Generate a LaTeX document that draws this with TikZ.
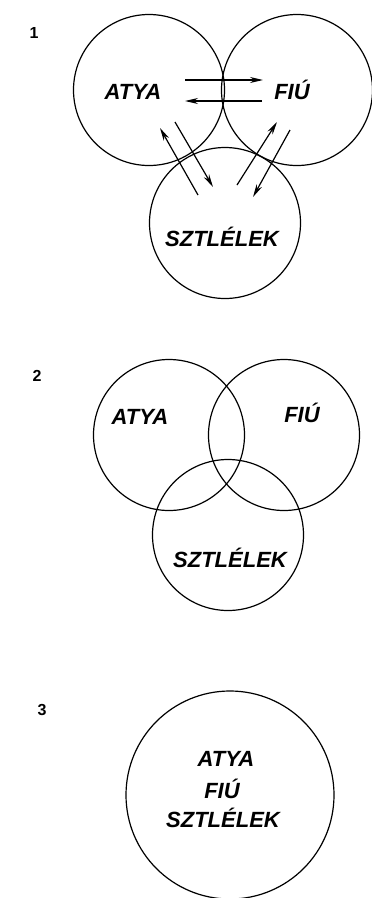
\documentclass[tikz,border=0pt]{standalone}
\usepackage{fontspec}
\setmainfont{Liberation Sans}
\usetikzlibrary{arrows.meta}
\begin{document}
\begin{tikzpicture}[x = 1pt, y = -1pt, line width = 1.2pt,
    kor/.style = {circle, draw, minimum size = 151pt, inner sep = 0pt},
    nev/.style = {font = \fontsize{22}{24}\selectfont\bfseries\itshape, inner sep = 0pt},
    szam/.style = {font = \fontsize{16}{18}\selectfont\bfseries},
    nyil/.style = {-{Stealth[length = 13pt, width = 6pt]}}]
\useasboundingbox (0,0) rectangle (372,898);
% 1
\draw (34,33) node[szam](n1){1}
    (149,90) node[kor](k1a){}
    (297,90) node[kor](k1f){}
    (225,223) node[kor](k1s){}
    (133,92) node[nev](t1a){ATYA}
    (292,90) node[nev](t1f){FIÚ}
    (222,237) node[nev](t1s){SZTLÉLEK};
\coordinate (af1) at (185,80);  \coordinate (af2) at (263,80);
\coordinate (fa1) at (262,101); \coordinate (fa2) at (185,101);
\coordinate (sa1) at (198,195); \coordinate (sa2) at (160,128);
\coordinate (as1) at (175,122); \coordinate (as2) at (213,187);
\coordinate (sf1) at (237,185); \coordinate (sf2) at (277,122);
\coordinate (fs1) at (290,130); \coordinate (fs2) at (253,197);
\draw [nyil] (af1) -- (af2);
\draw [nyil] (fa1) -- (fa2);
\draw [nyil] (sa1) -- (sa2);
\draw [nyil] (as1) -- (as2);
\draw [nyil] (sf1) -- (sf2);
\draw [nyil] (fs1) -- (fs2);
% 2
\draw (37,376) node[szam](n2){2}
    (169,435) node[kor](k2a){}
    (284,435) node[kor](k2f){}
    (228,535) node[kor](k2s){}
    (140,417) node[nev](t2a){ATYA}
    (302,413) node[nev](t2f){FIÚ}
    (230,558) node[nev](t2s){SZTLÉLEK};
% 3
\draw (42,710) node[szam](n3){3}
    (230,795) node[kor, minimum size = 208pt](k3){}
    (226,759) node[nev](t3a){ATYA}
    (222,789) node[nev](t3f){FIÚ}
    (223,818) node[nev](t3s){SZTLÉLEK};
\end{tikzpicture}
\end{document}
